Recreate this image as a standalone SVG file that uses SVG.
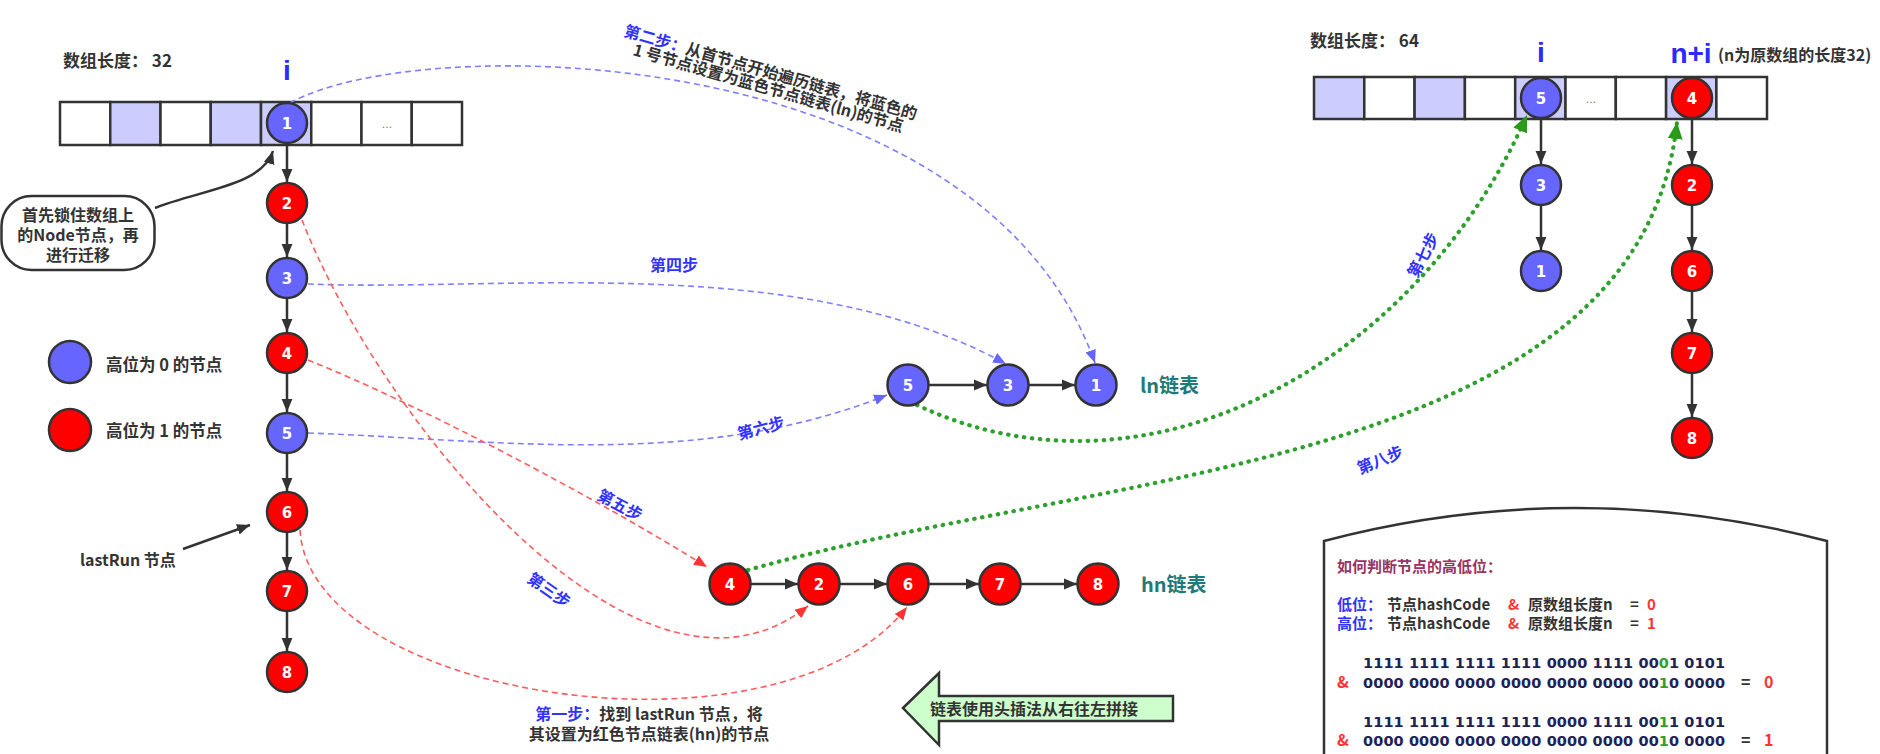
<svg xmlns="http://www.w3.org/2000/svg" width="1880" height="754" viewBox="0 0 1880 754">
<defs>
<style>
.cell{fill:#fff;stroke:#333;stroke-width:2.5}
.hl{fill:#ccccff}
.nb{fill:#6666ff;stroke:#333;stroke-width:2.5}
.nr{fill:#ff0000;stroke:#333;stroke-width:2.5}
.num{font-family:"DejaVu Sans",sans-serif;font-weight:bold;font-size:15px;fill:#fff;text-anchor:middle}
.txt{font-family:"Noto Sans CJK SC",sans-serif;font-weight:bold;font-size:16px;fill:#333}
.step{font-family:"Noto Sans CJK SC",sans-serif;font-weight:bold;font-size:16px;fill:#3333ff}
.idx{font-family:"Liberation Sans",sans-serif;font-weight:bold;font-size:28px;fill:#2b2bff;text-anchor:middle}
.lst{font-family:"Noto Sans CJK SC",sans-serif;font-weight:bold;font-size:20px;fill:#1f7a7a}
.dots{font-family:"DejaVu Sans",sans-serif;font-size:11px;fill:#777;text-anchor:middle}
.bin{font-family:"DejaVu Sans",sans-serif;font-weight:bold;font-size:14.5px;fill:#222255}
.chain{stroke:#333;stroke-width:2.5;fill:none;marker-end:url(#ab)}
.bdash{stroke:#7f7fff;stroke-width:1.6;stroke-dasharray:6 4;fill:none;marker-end:url(#abl)}
.rdash{stroke:#ff5c5c;stroke-width:1.6;stroke-dasharray:6 4;fill:none;marker-end:url(#arr)}
.gdot{stroke:#2ea02e;stroke-width:4.2;stroke-dasharray:0.5 7.5;stroke-linecap:round;fill:none;marker-end:url(#agr)}
.blk{stroke:#333;stroke-width:2.5;fill:none;marker-end:url(#ab)}
</style>
<marker id="ab" markerUnits="userSpaceOnUse" viewBox="0 0 12 12" refX="12" refY="6" markerWidth="13" markerHeight="13" orient="auto"><path d="M0,1 L12,6 L0,11 z" fill="#333"/></marker>
<marker id="abl" markerUnits="userSpaceOnUse" viewBox="0 0 12 12" refX="12" refY="6" markerWidth="13" markerHeight="13" orient="auto"><path d="M0,1 L12,6 L0,11 z" fill="#6666ff"/></marker>
<marker id="arr" markerUnits="userSpaceOnUse" viewBox="0 0 12 12" refX="12" refY="6" markerWidth="13" markerHeight="13" orient="auto"><path d="M0,1 L12,6 L0,11 z" fill="#ff3333"/></marker>
<marker id="agr" markerUnits="userSpaceOnUse" viewBox="0 0 16 14" refX="16" refY="7" markerWidth="17" markerHeight="15" orient="auto"><path d="M0,0 L16,7 L0,14 z" fill="#2a9a1a"/></marker>
</defs>
<rect width="1880" height="754" fill="#fff"/>

<!-- array 32 -->
<g id="array32">
<rect class="cell" x="60" y="102" width="50.25" height="43"/>
<rect class="cell hl" x="110.25" y="102" width="50.25" height="43"/>
<rect class="cell" x="160.5" y="102" width="50.25" height="43"/>
<rect class="cell hl" x="210.75" y="102" width="50.25" height="43"/>
<rect class="cell hl" x="261" y="102" width="50.25" height="43"/>
<rect class="cell" x="311.25" y="102" width="50.25" height="43"/>
<rect class="cell" x="361.5" y="102" width="50.25" height="43"/>
<rect class="cell" x="411.75" y="102" width="50.25" height="43"/>
<text class="dots" x="387" y="128">...</text>
<text class="txt" x="63" y="67" style="font-size:17px">数组长度： 32</text>
<text class="idx" x="287" y="80">i</text>
</g>

<!-- array 64 -->
<g id="array64">
<rect class="cell hl" x="1314" y="77" width="50.3" height="42"/>
<rect class="cell" x="1364.3" y="77" width="50.3" height="42"/>
<rect class="cell hl" x="1414.6" y="77" width="50.3" height="42"/>
<rect class="cell" x="1464.9" y="77" width="50.3" height="42"/>
<rect class="cell hl" x="1515.2" y="77" width="50.3" height="42"/>
<rect class="cell" x="1565.5" y="77" width="50.3" height="42"/>
<rect class="cell" x="1615.8" y="77" width="50.3" height="42"/>
<rect class="cell hl" x="1666.1" y="77" width="50.3" height="42"/>
<rect class="cell" x="1716.4" y="77" width="50.6" height="42"/>
<text class="dots" x="1591" y="103">...</text>
<text class="txt" x="1310" y="47" style="font-size:17px">数组长度： 64</text>
<text class="idx" x="1541" y="62">i</text>
<text class="idx" x="1691" y="63">n+i</text>
<text class="txt" x="1718" y="61" style="font-size:16px">(n为原数组的长度32)</text>
</g>

<!-- callout -->
<g id="callout">
<rect x="1.5" y="196" width="153" height="74" rx="30" ry="30" fill="#fff" stroke="#333" stroke-width="2.5"/>
<text class="txt" x="78" y="221" text-anchor="middle">首先锁住数组上</text>
<text class="txt" x="78" y="241" text-anchor="middle">的Node节点，再</text>
<text class="txt" x="78" y="261" text-anchor="middle">进行迁移</text>
</g>

<!-- legend -->
<g id="legend-blue">
<circle class="nb" cx="70" cy="362" r="21"/>
<text class="txt" x="106" y="371" style="font-size:16.5px">高位为 0 的节点</text>
</g>
<g id="legend-red">
<circle class="nr" cx="70" cy="430" r="21"/>
<text class="txt" x="106" y="437" style="font-size:16.5px">高位为 1 的节点</text>
</g>
<g id="lastrun-label">
<text class="txt" x="80" y="566">lastRun 节点</text>
</g>

<!-- connectors -->
<g id="connectors">
<line class="chain" x1="287" y1="144" x2="287" y2="182"/>
<line class="chain" x1="287" y1="224" x2="287" y2="257"/>
<line class="chain" x1="287" y1="299" x2="287" y2="332"/>
<line class="chain" x1="287" y1="374" x2="287" y2="412"/>
<line class="chain" x1="287" y1="454" x2="287" y2="491"/>
<line class="chain" x1="287" y1="533" x2="287" y2="570"/>
<line class="chain" x1="287" y1="612" x2="287" y2="651"/>
<line class="chain" x1="929" y1="385" x2="987" y2="385"/>
<line class="chain" x1="1029" y1="385" x2="1075" y2="385"/>
<line class="chain" x1="751" y1="584" x2="798" y2="584"/>
<line class="chain" x1="840" y1="584" x2="887" y2="584"/>
<line class="chain" x1="929" y1="584" x2="979" y2="584"/>
<line class="chain" x1="1021" y1="584" x2="1077" y2="584"/>
<line class="chain" x1="1541" y1="119" x2="1541" y2="164"/>
<line class="chain" x1="1541" y1="206" x2="1541" y2="250"/>
<line class="chain" x1="1692" y1="119" x2="1692" y2="164"/>
<line class="chain" x1="1692" y1="206" x2="1692" y2="250"/>
<line class="chain" x1="1692" y1="292" x2="1692" y2="332"/>
<line class="chain" x1="1692" y1="374" x2="1692" y2="417"/>
<path class="blk" d="M155,208 C200,190 262,186 273,151"/>
<line class="blk" x1="183" y1="549" x2="250" y2="525"/>
<path class="bdash" d="M290,103 C420,30 980,40 1095,363"/>
<path class="bdash" d="M308,284 C500,292 800,250 1006,364"/>
<path class="bdash" d="M308,433 C500,440 700,470 887,395"/>
<path class="rdash" d="M302,220 C380,420 640,740 808,606"/>
<path class="rdash" d="M308,360 C420,405 600,500 707,567"/>
<path class="rdash" d="M300,530 C310,700 780,770 907,607"/>
<path class="gdot" d="M917,405 C1150,515 1420,360 1527,115"/>
<path class="gdot" d="M748,570 C1100,470 1640,470 1677,122"/>
</g>

<!-- step labels -->
<g id="step-labels">
<text class="txt" x="623" y="36" transform="rotate(16 623 36)"><tspan fill="#3333ff">第二步：</tspan>从首节点开始遍历链表，将蓝色的</text>
<text class="txt" x="632" y="55" transform="rotate(16 632 55)">1 号节点设置为蓝色节点链表(ln)的节点</text>
<text class="step" x="674" y="271" text-anchor="middle">第四步</text>
<text class="step" x="761" y="434" text-anchor="middle" transform="rotate(-15 761 428)">第六步</text>
<text class="step" x="620" y="511" text-anchor="middle" transform="rotate(28 620 505)">第五步</text>
<text class="step" x="549" y="596" text-anchor="middle" transform="rotate(35 549 590)">第三步</text>
<text class="step" x="1423" y="261" text-anchor="middle" transform="rotate(-62 1423 255)">第七步</text>
<text class="step" x="1380" y="466" text-anchor="middle" transform="rotate(-22 1380 460)">第八步</text>
<text class="txt" x="649" y="720" text-anchor="middle"><tspan fill="#3333ff">第一步：</tspan>找到 lastRun 节点，将</text>
<text class="txt" x="649" y="740" text-anchor="middle">其设置为红色节点链表(hn)的节点</text>
</g>

<!-- left chain nodes -->
<g id="c32-1"><circle class="nb" cx="287" cy="123" r="20"/><text class="num" x="287" y="128.5">1</text></g>
<g id="c32-2"><circle class="nr" cx="287" cy="203" r="20"/><text class="num" x="287" y="208.5">2</text></g>
<g id="c32-3"><circle class="nb" cx="287" cy="278" r="20"/><text class="num" x="287" y="283.5">3</text></g>
<g id="c32-4"><circle class="nr" cx="287" cy="353" r="20"/><text class="num" x="287" y="358.5">4</text></g>
<g id="c32-5"><circle class="nb" cx="287" cy="433" r="20"/><text class="num" x="287" y="438.5">5</text></g>
<g id="c32-6"><circle class="nr" cx="287" cy="512" r="20"/><text class="num" x="287" y="517.5">6</text></g>
<g id="c32-7"><circle class="nr" cx="287" cy="591" r="20"/><text class="num" x="287" y="596.5">7</text></g>
<g id="c32-8"><circle class="nr" cx="287" cy="672" r="20"/><text class="num" x="287" y="677.5">8</text></g>

<!-- ln list -->
<g id="ln-5"><circle class="nb" cx="908" cy="385" r="20.5"/><text class="num" x="908" y="390.5">5</text></g>
<g id="ln-3"><circle class="nb" cx="1008" cy="385" r="20.5"/><text class="num" x="1008" y="390.5">3</text></g>
<g id="ln-1"><circle class="nb" cx="1096" cy="385" r="20.5"/><text class="num" x="1096" y="390.5">1</text></g>
<g id="ln-label"><text class="lst" x="1140" y="393">ln链表</text></g>

<!-- hn list -->
<g id="hn-4"><circle class="nr" cx="730" cy="584" r="20.5"/><text class="num" x="730" y="589.5">4</text></g>
<g id="hn-2"><circle class="nr" cx="819" cy="584" r="20.5"/><text class="num" x="819" y="589.5">2</text></g>
<g id="hn-6"><circle class="nr" cx="908" cy="584" r="20.5"/><text class="num" x="908" y="589.5">6</text></g>
<g id="hn-7"><circle class="nr" cx="1000" cy="584" r="20.5"/><text class="num" x="1000" y="589.5">7</text></g>
<g id="hn-8"><circle class="nr" cx="1098" cy="584" r="20.5"/><text class="num" x="1098" y="589.5">8</text></g>
<g id="hn-label"><text class="lst" x="1141" y="592">hn链表</text></g>

<!-- 64 array nodes -->
<g id="c64-5"><circle class="nb" cx="1541" cy="98" r="20"/><text class="num" x="1541" y="103.5">5</text></g>
<g id="c64-3"><circle class="nb" cx="1541" cy="185" r="20"/><text class="num" x="1541" y="190.5">3</text></g>
<g id="c64-1"><circle class="nb" cx="1541" cy="271" r="20"/><text class="num" x="1541" y="276.5">1</text></g>
<g id="c64-4"><circle class="nr" cx="1692" cy="98" r="20"/><text class="num" x="1692" y="103.5">4</text></g>
<g id="c64-2"><circle class="nr" cx="1692" cy="185" r="20"/><text class="num" x="1692" y="190.5">2</text></g>
<g id="c64-6"><circle class="nr" cx="1692" cy="271" r="20"/><text class="num" x="1692" y="276.5">6</text></g>
<g id="c64-7"><circle class="nr" cx="1692" cy="353" r="20"/><text class="num" x="1692" y="358.5">7</text></g>
<g id="c64-8"><circle class="nr" cx="1692" cy="438" r="20"/><text class="num" x="1692" y="443.5">8</text></g>

<!-- direction arrow -->
<g id="direction-note">
<path d="M903,708 L939,673 L939,696 L1173,696 L1173,721 L939,721 L939,745 Z" fill="#ccffcc" stroke="#333" stroke-width="2.5"/>
<text class="txt" x="930" y="715" style="font-size:16px">链表使用头插法从右往左拼接</text>
</g>

<!-- info box -->
<g id="info-box">
<path d="M1324,760 L1324,541 Q1575,475 1827,541 L1827,760" fill="#fff" stroke="#333" stroke-width="2.5"/>
<text class="txt" x="1337" y="572" style="font-size:15px;fill:#993366">如何判断节点的高低位：</text>
<text class="txt" y="610" style="font-size:15px"><tspan x="1337" fill="#3333ff">低位：</tspan><tspan x="1387">节点hashCode</tspan><tspan x="1508" fill="#ff3333">&amp;</tspan><tspan x="1528">原数组长度n</tspan><tspan x="1630">=</tspan><tspan x="1647" fill="#ff3333">0</tspan></text>
<text class="txt" y="629" style="font-size:15px"><tspan x="1337" fill="#3333ff">高位：</tspan><tspan x="1387">节点hashCode</tspan><tspan x="1508" fill="#ff3333">&amp;</tspan><tspan x="1528">原数组长度n</tspan><tspan x="1630">=</tspan><tspan x="1647" fill="#ff3333">1</tspan></text>
<text class="bin" x="1363" y="668" textLength="362" lengthAdjust="spacing">1111 1111 1111 1111 0000 1111 00<tspan fill="#2ea02e">0</tspan>1 0101</text>
<text class="txt" x="1337" y="688" style="fill:#ff3333">&amp;</text>
<text class="bin" x="1363" y="688" textLength="362" lengthAdjust="spacing">0000 0000 0000 0000 0000 0000 00<tspan fill="#2ea02e">1</tspan>0 0000</text>
<text class="txt" x="1741" y="688">=</text>
<text class="txt" x="1764" y="688" style="fill:#ff3333">0</text>
<text class="bin" x="1363" y="727" textLength="362" lengthAdjust="spacing">1111 1111 1111 1111 0000 1111 00<tspan fill="#2ea02e">1</tspan>1 0101</text>
<text class="txt" x="1337" y="746" style="fill:#ff3333">&amp;</text>
<text class="bin" x="1363" y="746" textLength="362" lengthAdjust="spacing">0000 0000 0000 0000 0000 0000 00<tspan fill="#2ea02e">1</tspan>0 0000</text>
<text class="txt" x="1741" y="746">=</text>
<text class="txt" x="1764" y="746" style="fill:#ff3333">1</text>
</g>
</svg>
